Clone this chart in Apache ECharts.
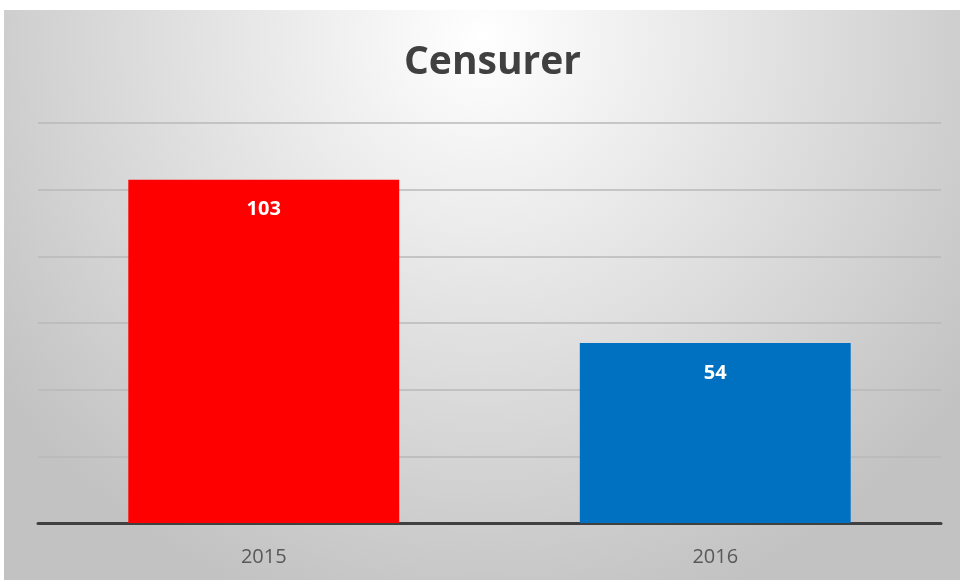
<!DOCTYPE html>
<html><head><meta charset="utf-8">
<script src="https://cdn.jsdelivr.net/npm/echarts@6/dist/echarts.min.js"></script>
<style>html,body{margin:0;padding:0;background:#fff}#c{width:960px;height:580px}</style>
</head><body><div id="c"></div>
<script>
const categories = ['2015', '2016'];
const values = [103, 54];
const barColors = ['#ff0000', '#0070c0'];
const chart = echarts.init(document.getElementById('c'));
chart.setOption({
  backgroundColor: '#ffffff',
  animation: false,
  graphic: [{
    type: 'rect', z: -10, silent: true,
    shape: { x: 4, y: 10, width: 956, height: 570 },
    style: {
      fill: {
        type: 'radial', x: 0.5, y: 0.05, r: 1.05,
        colorStops: [{ offset: 0, color: '#ffffff' }, { offset: 1, color: '#c2c2c2' }]
      }
    }
  }],
  title: {
    text: 'Censurer', left: 399, top: 38,
    textStyle: { fontFamily: 'Open Sans', fontWeight: 'bold', fontSize: 39, color: '#404040' }
  },
  grid: { left: 38, right: 19, top: 123, bottom: 57 },
  xAxis: {
    type: 'category', data: categories,
    axisLine: { lineStyle: { color: '#404040', width: 3 } },
    axisTick: { show: false },
    axisLabel: { fontFamily: 'Open Sans', fontSize: 20, color: '#595959', margin: 24 }
  },
  yAxis: {
    type: 'value', min: 0, max: 120, interval: 20,
    axisLabel: { show: false }, axisLine: { show: false }, axisTick: { show: false },
    splitLine: { lineStyle: { color: '#b8b8b8', width: 1.5 } }
  },
  series: [{
    type: 'bar', barWidth: '60%',
    data: values.map((v, i) => ({ value: v, itemStyle: { color: barColors[i] } })),
    label: {
      show: true, position: 'insideTop', distance: 20,
      fontFamily: 'Open Sans', fontWeight: 'bold', fontSize: 20, color: '#ffffff'
    }
  }]
});
</script></body></html>
